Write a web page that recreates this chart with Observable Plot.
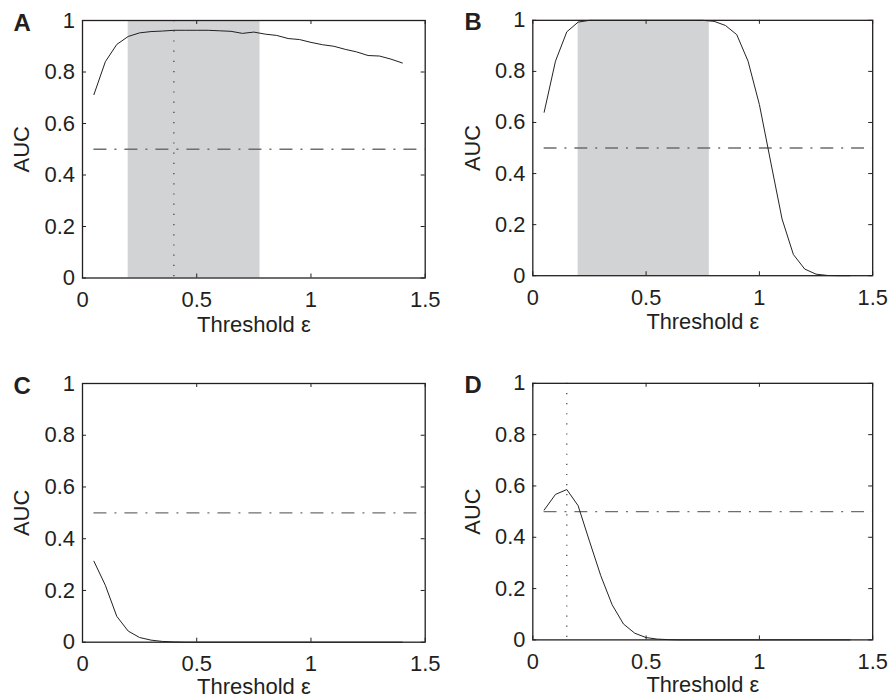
<!DOCTYPE html>
<html>
<head>
<meta charset="utf-8">
<script src="https://cdn.jsdelivr.net/npm/d3@7"></script>
<script src="https://cdn.jsdelivr.net/npm/@observablehq/plot@0.6"></script>
<style>
  html, body { margin: 0; padding: 0; background: #ffffff; }
  #root { position: relative; width: 893px; height: 700px; overflow: hidden; background: #ffffff; }
  .panel { position: absolute; }
  .panel svg { overflow: visible; }
</style>
</head>
<body>
<div id="root"></div>
<script>
// ---- data ----
const thresholds = [0.05,0.10,0.15,0.20,0.25,0.30,0.35,0.40,0.45,0.50,0.55,0.60,0.65,0.70,
                    0.75,0.80,0.85,0.90,0.95,1.00,1.05,1.10,1.15,1.20,1.25,1.30,1.35,1.40];
const aucA = [0.712,0.840,0.907,0.938,0.952,0.957,0.959,0.962,0.962,0.962,0.962,0.960,0.958,0.950,
              0.955,0.947,0.942,0.930,0.926,0.915,0.906,0.900,0.888,0.878,0.864,0.862,0.850,0.835];
const aucB = [0.640,0.840,0.955,0.993,1.000,1.000,1.000,1.000,1.000,1.000,1.000,1.000,1.000,1.000,
              1.000,0.996,0.980,0.944,0.840,0.670,0.445,0.222,0.083,0.026,0.006,0.001,0.000,0.000];
const aucC = [0.313,0.220,0.100,0.043,0.018,0.008,0.003,0.001,0.000,0.000,0.000,0.000,0.000,0.000,
              0.000,0.000,0.000,0.000,0.000,0.000,0.000,0.000,0.000,0.000,0.000,0.000,0.000,0.000];
const aucD = [0.506,0.567,0.586,0.523,0.385,0.250,0.137,0.062,0.026,0.009,0.003,0.001,0.000,0.000,
              0.000,0.000,0.000,0.000,0.000,0.000,0.000,0.000,0.000,0.000,0.000,0.000,0.000,0.000];

const panelLetters = ["A", "B", "C", "D"];
const panelSeries = [aucA, aucB, aucC, aucD];
const shadedRanges = [[0.2, 0.777], [0.2, 0.779], null, null];   // grey band [from, to]
const optimumThreshold = [0.4, null, null, 0.15];                 // dotted vertical line
const chanceLevel = [0.5];
const chanceFrom = 0.05;

const xTicks = [0, 0.5, 1, 1.5];
const yTicks = [0, 0.2, 0.4, 0.6, 0.8, 1];
const xLabel = "Threshold ε";
const yLabel = "AUC";

// ---- layout ----
const ink = "#231f20";
const font = "'Liberation Sans', Arial, Helvetica, sans-serif";
const plotW = 342.7;
const layout = [
  {left: 0,     top: 0,     plotH: 257.5, labelDy: 38.5},
  {left: 450.7, top: 0,     plotH: 257.5, labelDy: 38.5},
  {left: 0,     top: 363.3, plotH: 258.7, labelDy: 36.5},
  {left: 450.7, top: 363.3, plotH: 258.7, labelDy: 36.5}
];
const mL = 82, mT = 20, tickLen = 4;

const root = document.getElementById("root");

panelLetters.forEach((letter, i) => {
  const L = layout[i];
  const width = 446;
  const height = 340;
  const data = thresholds.map((t, k) => ({t, auc: panelSeries[i][k]}));
  const marks = [];

  if (shadedRanges[i]) {
    marks.push(Plot.rect([shadedRanges[i]], {x1: d => d[0], x2: d => d[1], fill: "#d1d3d4"}));
  }
  if (optimumThreshold[i] != null) {
    marks.push(Plot.ruleX([optimumThreshold[i]], {stroke: "#3a3a3c", strokeWidth: 1.2, strokeDasharray: "1.2,9"}));
  }
  marks.push(Plot.ruleY(chanceLevel, {x1: chanceFrom, x2: xTicks[xTicks.length - 1],
    stroke: "#6d6e71", strokeWidth: 1.3, strokeDasharray: "13,8,2,8"}));
  marks.push(Plot.line(data, {x: "t", y: "auc", stroke: ink, strokeWidth: 1}));

  // inward ticks on all four sides (MATLAB box style)
  marks.push(Plot.ruleX(xTicks, {x: d => d, insetTop: L.plotH - tickLen, stroke: ink}));
  marks.push(Plot.ruleX(xTicks, {x: d => d, insetBottom: L.plotH - tickLen, stroke: ink}));
  marks.push(Plot.ruleY(yTicks, {y: d => d, insetRight: plotW - tickLen, stroke: ink}));
  marks.push(Plot.ruleY(yTicks, {y: d => d, insetLeft: plotW - tickLen, stroke: ink}));
  marks.push(Plot.frame({stroke: ink, strokeWidth: 1.3}));

  marks.push(Plot.axisX(xTicks, {anchor: "bottom", tickSize: 0, tickPadding: 13.5, fontSize: 22,
    label: null, tickFormat: d => String(d)}));
  marks.push(Plot.axisY(yTicks, {anchor: "left", tickSize: 0, tickPadding: 7.5, fontSize: 22,
    label: null, tickFormat: d => String(d)}));

  marks.push(Plot.text([xLabel], {frameAnchor: "bottom", dy: L.labelDy, lineAnchor: "top", fontSize: 22, fill: ink}));
  marks.push(Plot.text([yLabel], {frameAnchor: "left", rotate: -90, dx: -60.5, lineAnchor: "middle",
    textAnchor: "middle", fontSize: 22, fill: ink}));
  marks.push(Plot.text([letter], {frameAnchor: "top-left", dx: -69, dy: -7, textAnchor: "start",
    lineAnchor: "top", fontSize: 24, fontWeight: "bold", fill: ink}));

  const chart = Plot.plot({
    width,
    height,
    marginLeft: mL,
    marginTop: mT,
    marginRight: width - mL - plotW,
    marginBottom: height - mT - L.plotH,
    x: {domain: [0, 1.5]},
    y: {domain: [0, 1]},
    style: {fontFamily: font, color: ink, background: "transparent", overflow: "visible"},
    marks
  });
  const holder = document.createElement("div");
  holder.className = "panel";
  holder.style.left = L.left + "px";
  holder.style.top = L.top + "px";
  holder.appendChild(chart);
  root.appendChild(holder);
});
</script>
</body>
</html>
